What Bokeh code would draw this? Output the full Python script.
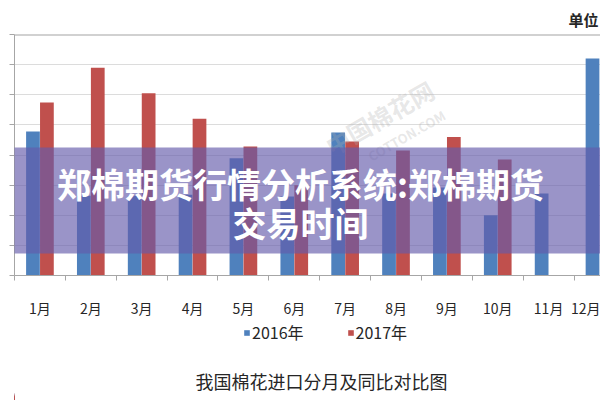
from bokeh.plotting import figure
from bokeh.layouts import column
from bokeh.models import (Range1d, FixedTicker, ColumnDataSource, Legend, LegendItem,
                          Label, BoxAnnotation, Span, Title)
from bokeh.transform import dodge
from bokeh.embed import file_html
from bokeh.resources import INLINE

months = ["1月", "2月", "3月", "4月", "5月", "6月", "7月", "8月", "9月", "10月", "11月", "12月"]
month_idx = [1, 2, 3, 4, 5, 6, 7, 8, 9, 10, 11, 12]
imports_2016 = [4.78, 2.65, 2.65, 2.68, 3.89, 2.62, 4.75, 2.72, 2.92, 2.0, 2.72, 7.2]
imports_2017 = [5.74, 6.9, 6.05, 5.2, 4.28, 3.0, 4.45, 4.15, 4.6, 3.85, 0.0, float("nan")]
series_names = ["2016年", "2017年"]
y_ticks = [0, 1, 2, 3, 4, 5, 6, 7, 8]
chart_title = "我国棉花进口分月及同比对比图"
unit_text = "单位"
banner_line1 = "郑棉期货行情分析系统:郑棉期货"
banner_line2 = "交易时间"

FONT = "Noto Sans CJK SC"
BLUE = "#4F81BD"
RED = "#C0504D"
TXT = "#262626"

src = ColumnDataSource(dict(x=month_idx, a=imports_2016, b=imports_2017))

# ---------------- main chart ----------------
p = figure(width=600, height=320, output_backend="svg", toolbar_location=None,
           x_range=Range1d(0.5, 12.02), y_range=Range1d(0, 8),
           min_border_left=14, min_border_right=0, min_border_top=34, min_border_bottom=45)
p.outline_line_color = None
p.background_fill_color = "white"
p.border_fill_color = "white"

r1 = p.vbar(x=dodge("x", -0.137, range=p.x_range), top="a", width=0.27, source=src,
            fill_color=BLUE, line_color=None)
r2 = p.vbar(x=dodge("x", 0.137, range=p.x_range), top="b", width=0.27, source=src,
            fill_color=RED, line_color=None)

xa = p.xaxis[0]
xa.ticker = FixedTicker(ticks=month_idx, minor_ticks=[i + 0.5 for i in range(0, 13)])
xa.major_label_overrides = {i: m for i, m in zip(month_idx, months)}
xa.major_tick_out = 0
xa.major_tick_in = 0
xa.minor_tick_out = 5
xa.minor_tick_in = 0
xa.minor_tick_line_color = "#a6a6a6"
xa.axis_line_color = "#a6a6a6"
xa.major_label_standoff = 17
xa.major_label_text_font = FONT
xa.major_label_text_font_size = "14px"
xa.major_label_text_color = TXT

ya = p.yaxis[0]
ya.ticker = FixedTicker(ticks=y_ticks)
ya.major_tick_out = 5
ya.major_tick_in = 0
ya.minor_tick_line_color = None
ya.major_tick_line_color = "#a6a6a6"
ya.axis_line_color = "#a6a6a6"
ya.major_label_text_font_size = "0px"
ya.major_label_text_color = None
ya.major_label_standoff = 0

p.xgrid.grid_line_color = None
p.ygrid.ticker = FixedTicker(ticks=y_ticks)
p.ygrid.grid_line_color = "#dcdcdc"

p.add_layout(Span(location=8, dimension="width", line_color="#a3a3a3", line_width=2))

p.add_layout(Title(text=unit_text, align="right", offset=2, text_font=FONT,
                   text_font_size="15px", text_font_style="bold", text_color=TXT,
                   standoff=10), "above")

# watermark
p.add_layout(Label(x=365, y=158, x_units="screen", y_units="screen", text="中国棉花网",
                   text_align="center", text_baseline="middle", text_font=FONT,
                   text_font_size="24px", text_font_style="bold", text_color="#b0b0b0",
                   text_alpha=0.3, angle=30, angle_units="deg"))
p.add_layout(Label(x=392, y=140, x_units="screen", y_units="screen", text="COTTON.COM",
                   text_align="center", text_baseline="middle", text_font=FONT,
                   text_font_size="13px", text_font_style="bold", text_color="#b0b0b0",
                   text_alpha=0.3, angle=30, angle_units="deg"))

# banner overlay
p.add_layout(BoxAnnotation(left=-14, right=600, left_units="screen", right_units="screen",
                           bottom=22, top=128, bottom_units="screen", top_units="screen",
                           fill_color=(100, 90, 170), fill_alpha=0.65, line_color=None,
                           level="annotation"))
p.add_layout(Label(x=286, y=92, x_units="screen", y_units="screen", text=banner_line1,
                   text_align="center", text_baseline="middle", text_font=FONT,
                   text_font_size="34px", text_font_style="bold", text_color="white"))
p.add_layout(Label(x=286, y=53, x_units="screen", y_units="screen", text=banner_line2,
                   text_align="center", text_baseline="middle", text_font=FONT,
                   text_font_size="34px", text_font_style="bold", text_color="white"))

# ---------------- footer: legend + caption ----------------
# the footer's x range lies far from the data, so its legend proxies stay out of view
f = figure(width=600, height=80, output_backend="svg", toolbar_location=None,
           x_range=Range1d(1000, 1600), y_range=Range1d(0, 80),
           x_axis_location=None, y_axis_location=None,
           min_border=0, min_border_left=0, min_border_right=0,
           min_border_top=0, min_border_bottom=0)
f.outline_line_color = None
f.grid.grid_line_color = None
f.background_fill_color = "white"
f.border_fill_color = "white"

k1 = f.vbar(x="x", top="a", width=0.27, source=src, fill_color=BLUE, line_color=None)
k2 = f.vbar(x="x", top="b", width=0.27, source=src, fill_color=RED, line_color=None)

legend = Legend(items=[LegendItem(label=series_names[0], renderers=[k1]),
                       LegendItem(label=series_names[1], renderers=[k2])],
                orientation="horizontal", location=(229, 56),
                glyph_width=7, glyph_height=7, label_standoff=2, spacing=43,
                padding=0, margin=0, border_line_color=None, background_fill_alpha=0,
                label_text_font=FONT, label_text_font_size="16px", label_text_color=TXT)
f.add_layout(legend, "center")

f.add_layout(Label(x=307, y=20, x_units="screen", y_units="screen", text=chart_title,
                   text_align="center", text_baseline="middle", text_font=FONT,
                   text_font_size="18px", text_color=TXT))

layout = column(p, f, spacing=0)
open("out.html", "w").write(file_html(layout, INLINE))
